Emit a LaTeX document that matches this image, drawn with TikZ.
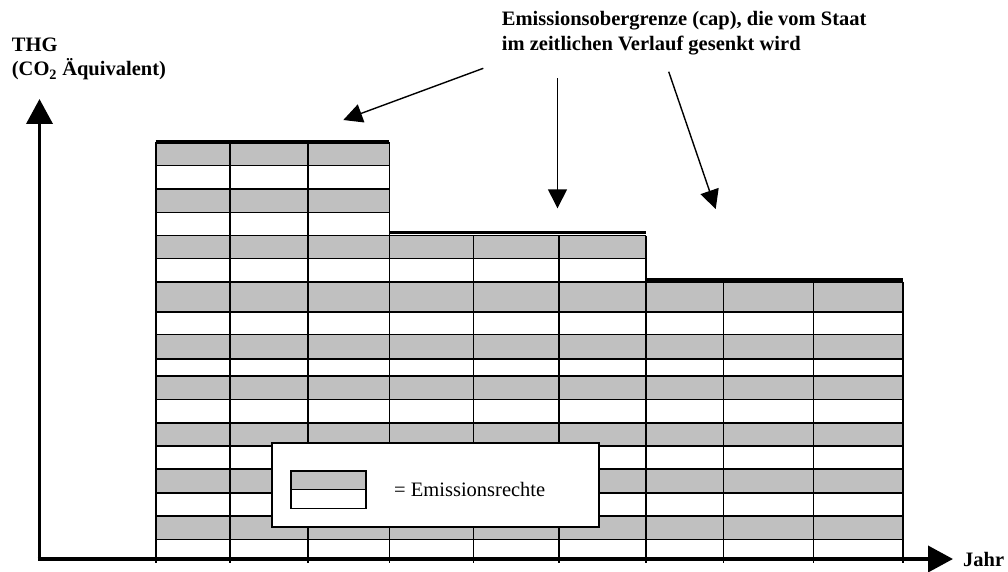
\documentclass[tikz,border=0pt]{standalone}
\usepackage{fontspec}
\setmainfont{Liberation Serif}
\usetikzlibrary{arrows.meta}
\definecolor{cellgray}{HTML}{C0C0C0}
\begin{document}
\begin{tikzpicture}[x=1pt,y=-1pt,
  lab/.style={font=\fontsize{20.5}{24}\selectfont\bfseries, inner sep=0pt, anchor=base west},
  gridline/.style={line width=1.6pt, black},
  capline/.style={line width=3.3pt, black},
  axisline/.style={line width=3.8pt, black, -{Triangle[length=25pt,width=26pt]}},
  pointer/.style={line width=1.4pt, black, -{Triangle[length=19pt,width=19pt]}},
  legendbox/.style={draw=black, line width=1.8pt, fill=white, inner sep=0pt},
  swatch/.style={draw=black, line width=1.6pt, inner sep=0pt, minimum width=75.3pt}
]
\useasboundingbox (0,0) rectangle (1008,572);
% cells
\foreach \t/\b/\r/\c in {142/165.7/389.3/cellgray, 165.7/189/389.3/white, 189/212.3/389.3/cellgray, 212.3/235.5/389.3/white,
  235.5/258.3/646/cellgray, 258.3/281.7/646/white,
  281.7/311.7/902.7/cellgray, 311.7/334.3/902.7/white, 334.3/359/902.7/cellgray, 359/376/902.7/white,
  376/399.3/902.7/cellgray, 399.3/422.7/902.7/white, 422.7/446/902.7/cellgray, 446/469/902.7/white,
  469/492.7/902.7/cellgray, 492.7/516/902.7/white, 516/539.3/902.7/cellgray, 539.3/559/902.7/white}
{
  \fill[fill=\c] (155.7,\t) rectangle (\r,\b);
  \draw[gridline] (155.7,\t) -- (\r,\t);
}
\foreach \x/\t in {155.7/142, 230/142, 307.7/142, 389.3/142, 473.3/235.5, 559/235.5, 646/235.5, 723.3/281.7, 813.3/281.7, 902.7/281.7}
  \draw[gridline] (\x,\t) -- (\x,563);
% caps
\draw[capline] (155.7,142) -- (389.3,142);
\draw[capline] (389.3,232.7) -- (646,232.7);
\draw[capline] (646,279.3) -- (902.7,279.3);
% axes
\coordinate (origin) at (39.5,559);
\coordinate (ytip) at (39.5,99);
\coordinate (xtip) at (953,559);
\draw[axisline] (origin) -- (ytip);
\draw[axisline] ([xshift=-1.9pt]origin) -- (xtip);
% legend
\node[legendbox, minimum width=327pt, minimum height=84pt] (legend) at (435.8,484.7) {};
\node[swatch, fill=cellgray, minimum height=18.6pt] (sw1) at (328.35,480) {};
\node[swatch, fill=white, minimum height=19pt] (sw2) at (328.35,498.8) {};
\node[inner sep=0pt, anchor=base west, font=\fontsize{20.5}{24}\selectfont] (legtext) at (394,496) {= Emissionsrechte};
% labels
\node[lab] (thg) at (11.7,51.7) {THG};
\node[lab] (co2) at (11.7,76) {(CO\textsubscript{2} Äquivalent)};
\node[lab] (jahr) at (963,566.7) {Jahr};
\node[lab] (cap1) at (501.7,26) {Emissionsobergrenze (cap), die vom Staat};
\node[lab] (cap2) at (501.7,50.7) {im zeitlichen Verlauf gesenkt wird};
% pointers
\coordinate (p1s) at (483.3,68.3);
\coordinate (p1e) at (343.3,120);
\coordinate (p2s) at (557.5,78.3);
\coordinate (p2e) at (557.5,208.3);
\coordinate (p3s) at (668.7,71.7);
\coordinate (p3e) at (715.7,209);
\draw[pointer] (p1s) -- (p1e);
\draw[pointer] (p2s) -- (p2e);
\draw[pointer] (p3s) -- (p3e);
\end{tikzpicture}
\end{document}
